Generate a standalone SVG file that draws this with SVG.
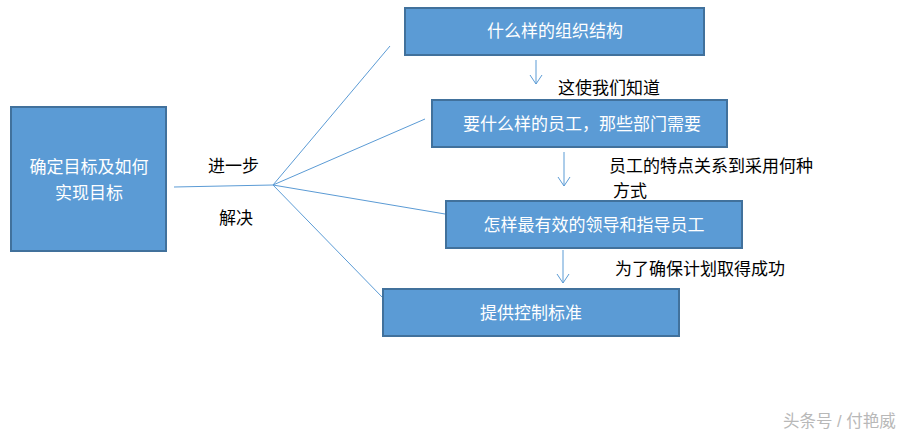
<svg xmlns="http://www.w3.org/2000/svg" width="908" height="436" viewBox="0 0 908 436">
<defs>
<style>
.box{fill:#5b9bd5;stroke:#41719c;stroke-width:2}
.bt{font-family:"Liberation Sans","Noto Sans CJK SC",sans-serif;font-size:17px;fill:#ffffff;text-anchor:middle}
.lt{font-family:"Liberation Sans","Noto Sans CJK SC",sans-serif;font-size:17px;fill:#000000}
.ln{stroke:#5b9bd5;stroke-width:1;fill:none}
</style>
<marker id="ah" markerWidth="12" markerHeight="14" refX="10" refY="7" orient="auto" markerUnits="userSpaceOnUse" viewBox="0 0 12 14">
<path d="M1,1 L10,7 L1,13" fill="none" stroke="#5b9bd5" stroke-width="1"/>
</marker>
</defs>
<rect width="908" height="436" fill="#ffffff"/>
<g id="connectors">
<line class="ln" x1="174" y1="187" x2="273" y2="185"/>
<line class="ln" x1="273" y1="185" x2="390" y2="46"/>
<line class="ln" x1="273" y1="185" x2="425" y2="119"/>
<line class="ln" x1="273" y1="185" x2="445" y2="214"/>
<line class="ln" x1="273" y1="185" x2="383" y2="298"/>
<line class="ln" x1="536" y1="60" x2="536" y2="84" marker-end="url(#ah)"/>
<line class="ln" x1="564" y1="152" x2="564" y2="186" marker-end="url(#ah)"/>
<line class="ln" x1="563" y1="250" x2="563" y2="283" marker-end="url(#ah)"/>
</g>
<g id="n0">
<rect class="box" x="11" y="107" width="155" height="144"/>
<text class="bt" x="89" y="173">确定目标及如何</text>
<text class="bt" x="89" y="199">实现目标</text>
</g>
<g id="n1">
<rect class="box" x="405" y="8" width="299" height="47"/>
<text class="bt" x="555" y="37">什么样的组织结构</text>
</g>
<g id="n2">
<rect class="box" x="432" y="100" width="295" height="47"/>
<text class="bt" x="582" y="130">要什么样的员工，那些部门需要</text>
</g>
<g id="n3">
<rect class="box" x="446" y="201" width="296" height="47"/>
<text class="bt" x="594" y="231">怎样最有效的领导和指导员工</text>
</g>
<g id="n4">
<rect class="box" x="383" y="289" width="296" height="47"/>
<text class="bt" x="531" y="319">提供控制标准</text>
</g>
<g id="labels">
<text class="lt" x="208" y="172">进一步</text>
<text class="lt" x="219" y="224">解决</text>
<text class="lt" x="558" y="94">这使我们知道</text>
<text class="lt" x="609" y="172">员工的特点关系到采用何种</text>
<text class="lt" x="613" y="197">方式</text>
<text class="lt" x="615" y="275">为了确保计划取得成功</text>
<text x="783" y="427" style="font-family:'Liberation Sans','Noto Sans CJK SC',sans-serif;font-size:16.5px;fill:#b8b8b8">头条号 / 付艳威</text>
</g>
</svg>
